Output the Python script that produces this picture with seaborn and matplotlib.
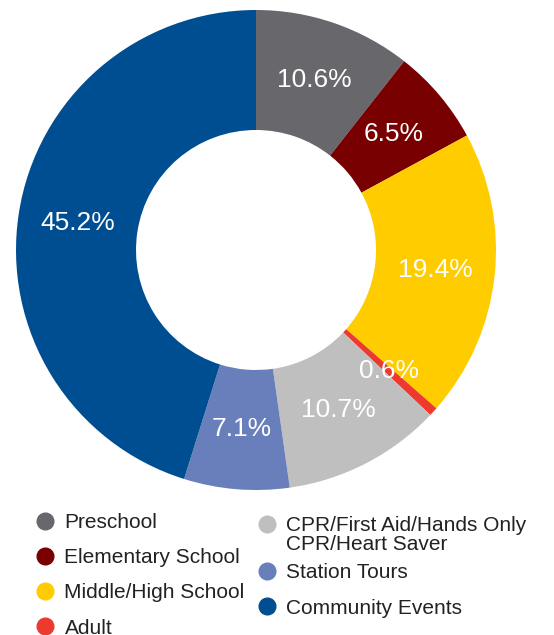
import matplotlib
matplotlib.use("Agg")
import numpy as np
import matplotlib.pyplot as plt
import matplotlib.transforms as mtransforms
import seaborn as sns
from matplotlib.lines import Line2D
from matplotlib.legend_handler import HandlerLine2D

categories = ["Preschool", "Elementary School", "Middle/High School", "Adult",
              "CPR/First Aid/Hands Only\nCPR/Heart Saver", "Station Tours", "Community Events"]
shares = [10.6, 6.5, 19.4, 0.6, 10.7, 7.1, 45.2]
colors = ["#68676c", "#780000", "#ffcc00", "#ee3a2e", "#bfbfbf", "#687fbb", "#004e92"]


class TopMarker(HandlerLine2D):
    # put the dot beside the first line of a two-line label
    def __init__(self, dy, **kw):
        super().__init__(**kw)
        self.dy = dy

    def create_artists(self, legend, orig_handle, xdescent, ydescent, width,
                       height, fontsize, trans):
        arts = super().create_artists(legend, orig_handle, xdescent, ydescent,
                                      width, height, fontsize, trans)
        for a in arts:
            a.set_ydata(np.asarray(a.get_ydata()) + self.dy)
        return arts


sns.set_style("white")
plt.rcParams['font.family'] = ['Liberation Sans', 'DejaVu Sans']

fig = plt.figure(figsize=(5.54, 6.35), dpi=100)
ax = fig.add_axes([16 / 554, (635 - 490) / 635, 480 / 554, 480 / 635])

wedges, texts = ax.pie(shares, colors=colors, startangle=90, counterclock=False,
                       radius=1.0, wedgeprops=dict(width=0.5, linewidth=0),
                       labels=[f"{v}%" for v in shares], labeldistance=0.75)
for t in texts:
    t.set_color("white")
    t.set_fontsize(19)
    t.set_ha("center")
    t.set_va("center")
ax.set_xlim(-1, 1)
ax.set_ylim(-1, 1)
ax.set_aspect("equal")
ax.axis("off")

handles = [Line2D([], [], marker="o", linestyle="", markersize=12,
                  markerfacecolor=c, markeredgecolor=c) for c in colors]
leg_kw = dict(loc="upper left", frameon=False, fontsize=15, handletextpad=0.36,
              labelspacing=0.78, handlelength=1.2, borderaxespad=0, borderpad=0)

leg1 = fig.legend(handles[:4], categories[:4],
                  bbox_to_anchor=(32 / 554, 1 - 513 / 635), **leg_kw)
leg2 = fig.legend(handles[4:], categories[4:],
                  bbox_to_anchor=(254 / 554, 1 - 509 / 635),
                  handler_map={handles[4]: TopMarker(dy=2.7)}, **leg_kw)

for leg in (leg1, leg2):
    for txt in leg.get_texts():
        txt.set_color("#222222")
        txt.set_linespacing(1.0)

# the two-line entry sits a little lower than the plain row pitch
cpr = leg2.get_texts()[0]
cpr.set_transform(cpr.get_transform()
                  + mtransforms.ScaledTranslation(0, -7 / 100, fig.dpi_scale_trans))

fig.savefig("out.png", dpi=100)
